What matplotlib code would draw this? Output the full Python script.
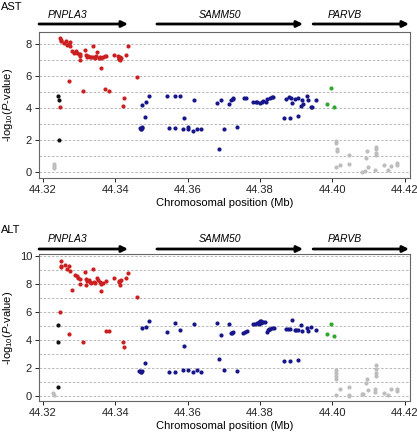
import numpy as np
import matplotlib
matplotlib.use("Agg")
import matplotlib.pyplot as plt

plt.rcParams['font.family'] = ['Liberation Sans', 'DejaVu Sans']
plt.rcParams['mathtext.fontset'] = 'custom'
plt.rcParams['mathtext.rm'] = 'Liberation Sans'
plt.rcParams['mathtext.it'] = 'Liberation Sans:italic'

# --- genes ---
gene_names = ["PNPLA3", "SAMM50", "PARVB"]
gene_start = [44.3189, 44.3515, 44.3947]
gene_end = [44.3435, 44.3919, 44.4212]
gene_label_x = [44.3214, 44.3630, 44.3988]

# --- AST ---
ast_red_x = [44.3248, 44.3249, 44.3250, 44.3259, 44.3264, 44.3267, 44.3272, 44.3274, 44.3276, 44.3281,
             44.3286, 44.3290, 44.3295, 44.3299, 44.3302, 44.3303, 44.3301, 44.3316, 44.3318, 44.3321,
             44.3324, 44.3329, 44.3334, 44.3338, 44.3343, 44.3347, 44.3350, 44.3354, 44.3358, 44.3361,
             44.3366, 44.3371, 44.3375, 44.3337, 44.3395, 44.3407, 44.3411, 44.3413, 44.3417, 44.3430,
             44.3436, 44.3359, 44.3271, 44.3459, 44.3311, 44.3371, 44.3382, 44.3424, 44.3421, 44.3247,
             44.3409, 44.3412, 44.3410]
ast_red_y = [8.39, 8.26, 8.16, 8.05, 8.16, 7.97, 8.01, 7.85, 8.12, 7.54,
             7.47, 7.54, 7.43, 7.35, 7.39, 7.23, 7.02, 7.60, 7.29, 7.18,
             7.23, 7.18, 7.18, 7.18, 7.14, 7.23, 7.49, 7.14, 7.18, 7.14,
             7.18, 7.23, 7.27, 7.87, 7.33, 7.23, 7.08, 6.98, 7.14, 7.33,
             7.89, 6.50, 5.67, 5.96, 5.05, 5.18, 5.05, 4.66, 4.14, 4.06,
             7.15, 7.20, 7.05]
ast_black_x = [44.3241, 44.3243, 44.3243]
ast_black_y = [4.74, 4.49, 2.01]
ast_gray_x = [44.3229, 44.3230, 44.3229,
              44.4011, 44.4011, 44.4012, 44.4012, 44.4010, 44.4022, 44.4045, 44.4045, 44.4083, 44.4090,
              44.4092, 44.4097, 44.4100, 44.4121, 44.4121, 44.4121, 44.4121, 44.4119, 44.4142, 44.4154,
              44.4163, 44.4178, 44.4179]
ast_gray_y = [0.50, 0.38, 0.28,
              1.95, 1.80, 1.43, 1.30, 0.35, 0.46, 1.06, 0.52, 0.02, 0.08,
              0.91, 1.33, 0.31, 1.59, 1.43, 1.22, 1.08, 0.12, 0.48, 0.12,
              0.41, 0.56, 0.46]
ast_blue_x = [44.3474, 44.3484, 44.3492, 44.3481, 44.3468, 44.3472, 44.3475, 44.3470, 44.3473, 44.3542,
              44.3565, 44.3580, 44.3618, 44.3681, 44.3692, 44.3548, 44.3564, 44.3587, 44.3590, 44.3600,
              44.3601, 44.3615, 44.3627, 44.3638, 44.3687, 44.3701, 44.3714, 44.3720, 44.3724, 44.3726,
              44.3737, 44.3756, 44.3762, 44.3782, 44.3788, 44.3793, 44.3799, 44.3805, 44.3809, 44.3816,
              44.3820, 44.3827, 44.3834, 44.3837, 44.3865, 44.3883, 44.3906, 44.3873, 44.3880, 44.3885,
              44.3888, 44.3896, 44.3906, 44.3914, 44.3918, 44.3917, 44.3931, 44.3932, 44.3942, 44.3945,
              44.3954]
ast_blue_y = [4.20, 4.39, 4.74, 3.42, 2.77, 2.69, 2.75, 2.67, 2.80, 4.78,
              4.74, 4.74, 4.49, 4.33, 4.51, 2.77, 2.77, 2.73, 3.40, 2.84,
              2.69, 2.59, 2.73, 2.73, 1.43, 2.73, 4.29, 4.53, 4.62, 4.60,
              2.80, 4.64, 4.66, 4.41, 4.39, 4.37, 4.33, 4.37, 4.45, 4.39,
              4.60, 4.64, 4.70, 4.70, 3.40, 3.40, 3.54, 4.60, 4.72, 4.66,
              4.33, 4.60, 4.64, 4.12, 4.24, 4.49, 4.74, 4.49, 4.10, 4.10,
              4.53]
ast_green_x = [44.3997, 44.3984, 44.4006]
ast_green_y = [5.28, 4.26, 4.06]

# --- ALT ---
alt_red_x = [44.3249, 44.3249, 44.3251, 44.3262, 44.3267, 44.3271, 44.3275, 44.3281, 44.3289, 44.3293,
             44.3297, 44.3302, 44.3303, 44.3316, 44.3320, 44.3323, 44.3326, 44.3329, 44.3334, 44.3338,
             44.3340, 44.3345, 44.3348, 44.3352, 44.3357, 44.3361, 44.3367, 44.3374, 44.3320, 44.3359,
             44.3395, 44.3410, 44.3413, 44.3417, 44.3430, 44.3436, 44.3459, 44.3247, 44.3271, 44.3311,
             44.3373, 44.3382, 44.3421, 44.3425, 44.3411, 44.3414]
alt_red_y = [9.64, 9.29, 9.22, 9.33, 9.10, 9.29, 8.95, 7.55, 8.62, 8.55,
             8.43, 8.38, 8.03, 8.86, 8.38, 8.19, 8.27, 8.15, 8.10, 9.05,
             8.15, 8.10, 8.46, 8.27, 8.15, 8.03, 8.10, 8.22, 7.91, 7.53,
             8.43, 8.19, 7.96, 8.27, 8.43, 8.79, 7.08, 6.01, 4.42, 3.87,
             4.68, 4.68, 3.87, 3.49, 8.12, 8.25]
alt_black_x = [44.3241, 44.3242, 44.3242]
alt_black_y = [5.08, 3.85, 0.64]
alt_gray_x = [44.3228, 44.3230,
              44.4011, 44.4011, 44.4011, 44.4011, 44.4010, 44.4022, 44.4045, 44.4045, 44.4045, 44.4081,
              44.4084, 44.4093, 44.4095, 44.4100, 44.4121, 44.4121, 44.4121, 44.4121, 44.4119, 44.4119,
              44.4142, 44.4154, 44.4163, 44.4178, 44.4180]
alt_gray_y = [0.21, 0.12,
              1.85, 1.69, 1.45, 1.26, 0.07, 0.52, 0.67, 0.12, 0.00, 0.19,
              0.19, 0.95, 1.26, 0.43, 2.26, 1.97, 1.69, 1.45, 0.55, 0.29,
              0.21, 0.07, 0.52, 0.50, 0.40]
alt_blue_x = [44.3473, 44.3484, 44.3492, 44.3481, 44.3467, 44.3472, 44.3474, 44.3466, 44.3471, 44.3542,
              44.3565, 44.3580, 44.3589, 44.3618, 44.3681, 44.3692, 44.3688, 44.3548, 44.3564, 44.3587,
              44.3600, 44.3615, 44.3627, 44.3638, 44.3701, 44.3714, 44.3721, 44.3723, 44.3724, 44.3737,
              44.3754, 44.3759, 44.3764, 44.3782, 44.3787, 44.3791, 44.3796, 44.3800, 44.3804, 44.3809,
              44.3813, 44.3798, 44.3802, 44.3818, 44.3821, 44.3825, 44.3829, 44.3834, 44.3838, 44.3865,
              44.3883, 44.3905, 44.3873, 44.3877, 44.3883, 44.3888, 44.3896, 44.3900, 44.3906, 44.3914,
              44.3917, 44.3931, 44.3932, 44.3942, 44.3954]
alt_blue_y = [4.89, 4.96, 5.34, 2.35, 1.81, 1.76, 1.83, 1.78, 1.71, 4.56,
              5.25, 4.75, 3.56, 5.15, 5.22, 4.37, 2.64, 1.76, 1.76, 1.85,
              1.88, 1.71, 1.85, 1.71, 1.85, 5.18, 4.49, 4.54, 4.56, 1.81,
              4.54, 4.58, 4.63, 5.15, 5.15, 5.20, 5.27, 5.34, 5.34, 5.32,
              5.32, 5.13, 5.22, 4.58, 4.70, 4.77, 4.82, 4.85, 4.85, 2.49,
              2.49, 2.57, 4.77, 4.80, 4.82, 5.46, 4.73, 4.73, 4.73, 5.06,
              4.63, 4.89, 4.66, 4.96, 4.70]
alt_green_x = [44.3997, 44.3984, 44.4006]
alt_green_y = [5.15, 4.47, 4.28]

x_ticks = [44.32, 44.34, 44.36, 44.38, 44.40, 44.42]

RED = '#cc1f1f'
BLUE = '#16168a'
GREEN = '#2ea82e'
GRAY = '#bdbdbd'
BLACK = '#111111'

W, H = 417, 437
fig = plt.figure(figsize=(W / 100, H / 100), dpi=100)


def make_panel(rect_px, ylim, yticks, ymax_grid, groups, title, title_y, arrow_y, label_y):
    left, top, right, bottom = rect_px
    ax = fig.add_axes([left / W, 1 - bottom / H, (right - left) / W, (bottom - top) / H])
    for g in range(0, ymax_grid + 1):
        ax.axhline(g, color='#b0b0b0', lw=0.6, ls=(0, (3, 2)), zorder=0)
    for xs, ys, c in groups:
        ax.scatter(xs, ys, s=9, color=c, linewidths=0, zorder=3)
    ax.set_xlim(44.31889, 44.42148)
    ax.set_ylim(*ylim)
    ax.set_xticks(x_ticks)
    ax.set_xticklabels([f"{t:.2f}" for t in x_ticks])
    ax.set_yticks(yticks)
    ax.tick_params(labelsize=8, length=3, width=0.7, pad=2, colors='#222222')
    for s in ax.spines.values():
        s.set_color('#666666')
        s.set_linewidth(0.8)
    ax.set_xlabel('Chromosomal position (Mb)', fontsize=8, labelpad=2)
    ax.set_ylabel(r'-log$_{10}$($\mathit{P}$-value)', fontsize=8)
    ax.yaxis.set_label_coords(-0.064, 0.5)

    tr = ax.get_xaxis_transform()
    for name, s0, s1, lx in zip(gene_names, gene_start, gene_end, gene_label_x):
        ax.annotate('', xy=(s1, arrow_y), xytext=(s0, arrow_y), xycoords=tr, textcoords=tr,
                    arrowprops=dict(arrowstyle='-|>', lw=2, color='black',
                                    mutation_scale=9, shrinkA=0, shrinkB=0),
                    annotation_clip=False)
        ax.text(lx, label_y, name, transform=tr, fontsize=7.5, style='italic',
                ha='left', va='center')
    fig.text(1 / W, 1 - title_y / H, title, fontsize=8, ha='left', va='center')
    return ax


make_panel((39, 32, 410, 178), (-0.355, 8.75), [0, 2, 4, 6, 8], 8,
           [(ast_gray_x, ast_gray_y, GRAY), (ast_black_x, ast_black_y, BLACK),
            (ast_blue_x, ast_blue_y, BLUE), (ast_green_x, ast_green_y, GREEN),
            (ast_red_x, ast_red_y, RED)],
           'AST', 7, 1.0548, 1.116)

make_panel((39, 254, 410, 401), (-0.335, 10.14), [0, 2, 4, 6, 8, 10], 10,
           [(alt_gray_x, alt_gray_y, GRAY), (alt_black_x, alt_black_y, BLACK),
            (alt_blue_x, alt_blue_y, BLUE), (alt_green_x, alt_green_y, GREEN),
            (alt_red_x, alt_red_y, RED)],
           'ALT', 230, 1.034, 1.102)

fig.savefig('out.png', dpi=100)
